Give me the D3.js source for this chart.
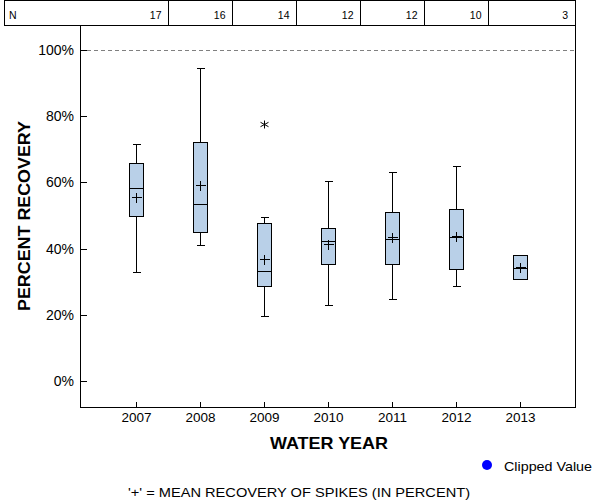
<!DOCTYPE html>
<html><head><meta charset="utf-8">
<script src="https://cdn.jsdelivr.net/npm/d3@7"></script>
<style>body{margin:0;background:#fff}svg{display:block;font-family:"Liberation Sans",Arial,sans-serif}</style>
</head><body><svg id="c" width="600" height="500"></svg>
<script>
const years = [2007, 2008, 2009, 2010, 2011, 2012, 2013];
const nCounts = [17, 16, 14, 12, 12, 10, 3];
const whiskerLow = [32.9, 41.0, 19.6, 23.0, 24.7, 28.6, null];
const q1 = [49.8, 45.0, 28.6, 35.3, 35.3, 33.8, 30.8];
const median = [58.3, 53.5, 33.2, 42.2, 42.8, 43.4, 34.2];
const q3 = [65.8, 72.2, 47.7, 46.2, 51.0, 51.9, 38.0];
const whiskerHigh = [71.6, 94.5, 49.4, 60.3, 63.1, 64.9, null];
const means = [55.5, 59.3, 37.0, 41.4, 43.6, 43.7, 34.4];
const outlierYears = [2009];
const outlierValues = [77.6];
const yTicks = [0, 20, 40, 60, 80, 100];

const svg = d3.select("#c");
const L = 80, R = 575, T = 26, B = 407;
const x = d3.scaleLinear().domain([2006.125, 2013.875]).range([L, R + 1]);
const y = d3.scaleLinear().domain([-7.9, 107.3]).range([B, T]);
const px = v => Math.round(v) + 0.5;

// N table
const tbl = svg.append("g").attr("shape-rendering", "crispEdges");
tbl.append("rect").attr("x", 4.5).attr("y", 0.5).attr("width", R - 4).attr("height", T - 1)
  .attr("fill", "none").attr("stroke", "#000");
const seps = years.slice(0, -1).map(d => px(x(d + 0.5)));
tbl.selectAll("line.sep").data(seps).join("line")
  .attr("x1", d => d).attr("x2", d => d).attr("y1", 0).attr("y2", T)
  .attr("stroke", "#000");
svg.append("text").attr("x", 9).attr("y", 19).attr("font-size", 10.5).text("N");
const rightEdges = seps.concat([R]);
svg.selectAll("text.n").data(nCounts).join("text")
  .attr("x", (d, i) => rightEdges[i] - 7).attr("y", 19)
  .attr("text-anchor", "end").attr("font-size", 10.5).text(d => d);

// reference line at 100%
svg.append("line").attr("x1", L).attr("x2", R).attr("y1", px(y(100))).attr("y2", px(y(100)))
  .attr("stroke", "#808080").attr("stroke-dasharray", "4,3").attr("shape-rendering", "crispEdges");

// frame
svg.append("rect").attr("x", L + 0.5).attr("y", T - 0.5).attr("width", R - L).attr("height", B - T + 1)
  .attr("fill", "none").attr("stroke", "#000").attr("shape-rendering", "crispEdges");

// y ticks (inward)
const yt = svg.append("g").attr("shape-rendering", "crispEdges");
yt.selectAll("line").data(yTicks).join("line")
  .attr("x1", L).attr("x2", L + 7).attr("y1", d => px(y(d))).attr("y2", d => px(y(d))).attr("stroke", "#000");
yt.selectAll("text").data(yTicks).join("text")
  .attr("x", 74).attr("y", d => y(d) + 5).attr("text-anchor", "end").attr("font-size", 14)
  .text(d => d + "%");

// x ticks (inward)
const xt = svg.append("g").attr("shape-rendering", "crispEdges");
xt.selectAll("line").data(years).join("line")
  .attr("x1", d => px(x(d))).attr("x2", d => px(x(d))).attr("y1", B - 5).attr("y2", B).attr("stroke", "#000");
xt.selectAll("text").data(years).join("text")
  .attr("x", d => x(d) + 0.5).attr("y", 422).attr("text-anchor", "middle").attr("font-size", 13.5)
  .text(d => d);

// boxes
const bw = 15, cw = 8, mw = 9;
const g = svg.append("g").attr("shape-rendering", "crispEdges").attr("stroke", "#000").attr("fill", "none");
years.forEach((yr, i) => {
  const cx = px(x(yr));
  if (whiskerHigh[i] != null) {
    g.append("line").attr("x1", cx).attr("x2", cx).attr("y1", px(y(whiskerHigh[i]))).attr("y2", px(y(q3[i])));
    g.append("line").attr("x1", cx - cw / 2).attr("x2", cx + cw / 2).attr("y1", px(y(whiskerHigh[i]))).attr("y2", px(y(whiskerHigh[i])));
  }
  if (whiskerLow[i] != null) {
    g.append("line").attr("x1", cx).attr("x2", cx).attr("y1", px(y(q1[i]))).attr("y2", px(y(whiskerLow[i])));
    g.append("line").attr("x1", cx - cw / 2).attr("x2", cx + cw / 2).attr("y1", px(y(whiskerLow[i]))).attr("y2", px(y(whiskerLow[i])));
  }
  const top = px(y(q3[i])), bot = px(y(q1[i]));
  g.append("rect").attr("x", cx - Math.floor(bw / 2)).attr("y", top).attr("width", bw - 1).attr("height", bot - top)
    .attr("fill", "#B9D0E8");
  g.append("line").attr("x1", cx - Math.floor(bw / 2)).attr("x2", cx - Math.floor(bw / 2) + bw - 1)
    .attr("y1", px(y(median[i]))).attr("y2", px(y(median[i])));
  const my = px(y(means[i]));
  g.append("line").attr("x1", cx - mw / 2 - 0.5).attr("x2", cx + mw / 2 + 0.5).attr("y1", my).attr("y2", my);
  g.append("line").attr("x1", cx).attr("x2", cx).attr("y1", my - mw / 2 - 0.5).attr("y2", my + mw / 2 + 0.5);
});

// outliers (asterisk)
outlierYears.forEach((yr, i) => {
  const cx = px(x(yr)), cy = px(y(outlierValues[i]));
  const s = 4;
  svg.append("path").attr("d",
    `M${cx},${cy - s}V${cy + s}M${cx - s},${cy - s * 0.55}L${cx + s},${cy + s * 0.55}M${cx - s},${cy + s * 0.55}L${cx + s},${cy - s * 0.55}`)
    .attr("stroke", "#000").attr("fill", "none");
});

// axis titles
svg.append("text").attr("transform", "translate(30,216) rotate(-90)").attr("text-anchor", "middle")
  .attr("font-size", 16.5).attr("font-weight", "bold")
  .attr("textLength", 190).attr("lengthAdjust", "spacingAndGlyphs").text("PERCENT RECOVERY");
svg.append("text").attr("x", 329).attr("y", 449).attr("text-anchor", "middle")
  .attr("font-size", 16.5).attr("font-weight", "bold")
  .attr("textLength", 118).attr("lengthAdjust", "spacingAndGlyphs").text("WATER YEAR");

// legend
svg.append("circle").attr("cx", 487).attr("cy", 465).attr("r", 5).attr("fill", "#0000FF");
svg.append("text").attr("x", 504).attr("y", 471).attr("font-size", 13.5)
  .attr("textLength", 88).attr("lengthAdjust", "spacingAndGlyphs").text("Clipped Value");

// footnote
svg.append("text").attr("x", 128).attr("y", 497).attr("font-size", 13.5)
  .attr("textLength", 342).attr("lengthAdjust", "spacingAndGlyphs")
  .text("'+' = MEAN RECOVERY OF SPIKES (IN PERCENT)");
</script></body></html>
